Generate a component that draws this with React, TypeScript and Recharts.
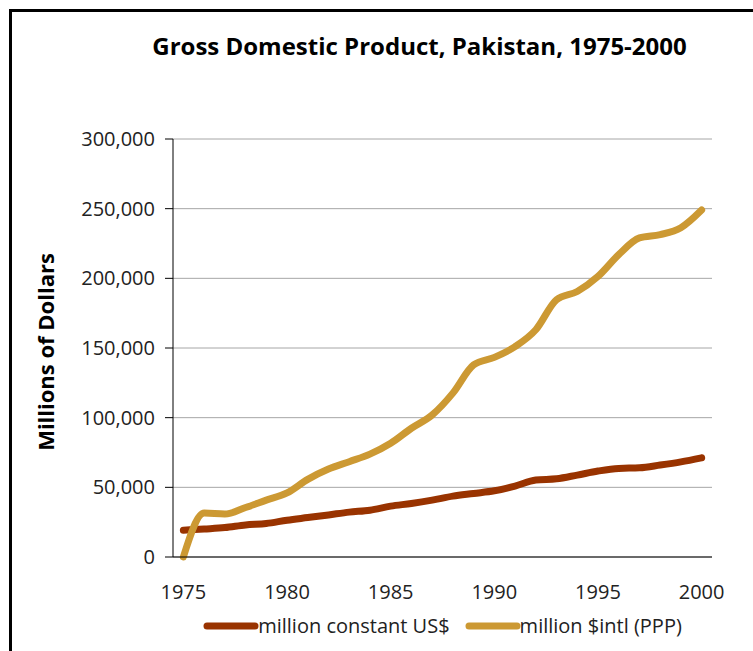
import { CartesianGrid, Legend, Line, LineChart, XAxis, YAxis } from "recharts";

const years = [
  1975, 1976, 1977, 1978, 1979, 1980, 1981, 1982, 1983, 1984, 1985, 1986, 1987,
  1988, 1989, 1990, 1991, 1992, 1993, 1994, 1995, 1996, 1997, 1998, 1999, 2000,
];

// million constant US$
const constantUsd = [
  19200, 20100, 21100, 23000, 24000, 26400, 28300, 30200, 32200, 33600, 36500,
  38400, 40800, 43700, 45600, 47500, 50900, 55200, 56100, 58800, 61700, 63600,
  64000, 66000, 68300, 71200,
];

// million $intl (PPP)
const intlPpp = [
  0, 31500, 30800, 35500, 40800, 46000, 55700, 63100, 68400, 73800, 81600, 92400,
  101900, 117600, 137900, 143300, 151000, 163100, 184700, 190600, 201400, 217000,
  229000, 231400, 236300, 249000,
];

const yearTicks = [1975, 1980, 1985, 1990, 1995, 2000];
const valueTicks = [0, 50000, 100000, 150000, 200000, 250000, 300000];

const series = [
  { key: "usd", name: "million constant US$", color: "#993300" },
  { key: "ppp", name: "million $intl (PPP)", color: "#CC9933" },
];

const data = years.map((year, i) => ({
  year,
  usd: constantUsd[i],
  ppp: intlPpp[i],
}));

const FONT = "'Open Sans', sans-serif";

function LegendRow() {
  return (
    <div
      style={{
        display: "flex",
        justifyContent: "center",
        alignItems: "center",
        fontFamily: FONT,
        fontSize: 20,
        color: "#222",
        paddingLeft: 186,
      }}
    >
      {series.map((s) => (
        <div key={s.key} style={{ display: "flex", alignItems: "center", marginRight: 14 }}>
          <svg width={58} height={12}>
            <line
              x1={5}
              y1={6}
              x2={53}
              y2={6}
              stroke={s.color}
              strokeWidth={7}
              strokeLinecap="round"
            />
          </svg>
          <span style={{ marginLeft: -2 }}>{s.name}</span>
        </div>
      ))}
    </div>
  );
}

export default function App() {
  return (
    <div
      style={{
        position: "absolute",
        left: 0,
        top: 0,
        width: 753,
        height: 651,
        overflow: "hidden",
        background: "white",
      }}
    >
      <div
        style={{
          position: "absolute",
          left: 9,
          top: 9,
          width: 800,
          height: 700,
          borderLeft: "3px solid #000",
          borderTop: "3px solid #000",
        }}
      />
      <div
        style={{
          position: "absolute",
          left: 0,
          width: 839,
          top: 29,
          textAlign: "center",
          fontFamily: FONT,
          fontWeight: 700,
          fontSize: 24,
          color: "#000",
        }}
      >
        Gross Domestic Product, Pakistan, 1975-2000
      </div>
      <div
        style={{
          position: "absolute",
          left: 45,
          top: 352,
          transform: "translate(-50%, -50%) rotate(-90deg)",
          whiteSpace: "nowrap",
          fontFamily: FONT,
          fontWeight: 700,
          fontSize: 22,
          color: "#000",
        }}
      >
        Millions of Dollars
      </div>
      <LineChart
        width={753}
        height={651}
        data={data}
        margin={{ top: 139, right: 41, bottom: 9, left: 0 }}
        style={{ position: "absolute", left: 0, top: 0 }}
      >
        <CartesianGrid vertical={false} stroke="#a6a6a6" />
        <XAxis
          dataKey="year"
          type="number"
          domain={[1974.5, 2000.5]}
          ticks={yearTicks}
          allowDataOverflow
          height={55}
          tickLine={false}
          tickSize={0}
          tickMargin={28}
          axisLine={{ stroke: "#000" }}
          tick={{ fontSize: 20, fill: "#222", fontFamily: FONT }}
        />
        <YAxis
          domain={[0, 300000]}
          ticks={valueTicks}
          width={173}
          tickSize={8}
          tickMargin={10}
          axisLine={{ stroke: "#000" }}
          tickLine={{ stroke: "#000" }}
          tickFormatter={(v: number) => v.toLocaleString("en-US")}
          tick={{ fontSize: 20, fill: "#222", fontFamily: FONT }}
        />
        <Legend verticalAlign="bottom" height={30} content={() => <LegendRow />} />
        {series.map((s) => (
          <Line
            key={s.key}
            type="monotone"
            dataKey={s.key}
            name={s.name}
            stroke={s.color}
            strokeWidth={7}
            strokeLinecap="round"
            dot={false}
            activeDot={false}
            isAnimationActive={false}
          />
        ))}
      </LineChart>
    </div>
  );
}
